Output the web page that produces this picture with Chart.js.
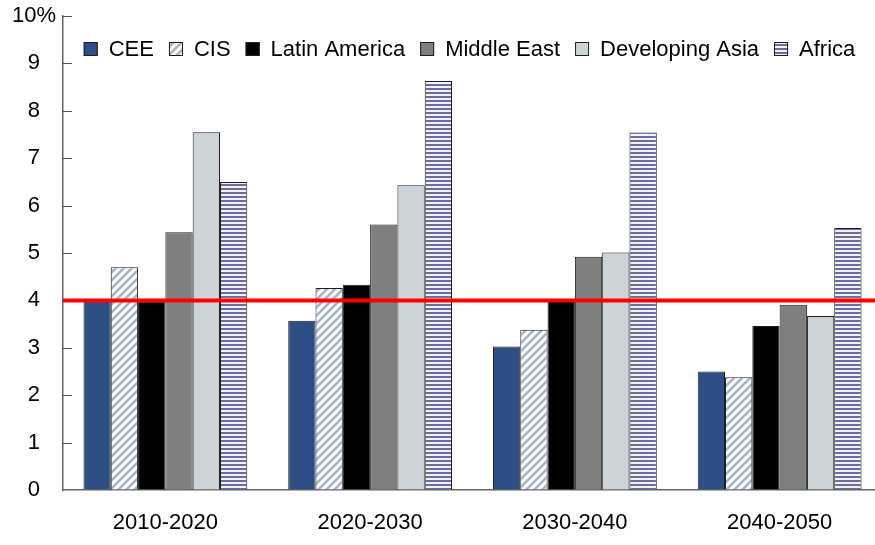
<!DOCTYPE html>
<html>
<head>
<meta charset="utf-8">
<script src="https://cdn.jsdelivr.net/npm/chart.js@4.4.0/dist/chart.umd.min.js"></script>
<style>
  html, body { margin: 0; padding: 0; background: #fff; overflow: hidden; }
  #wrap { width: 882px; height: 545px; }
</style>
</head>
<body>
<div id="wrap"><canvas id="myChart" width="882" height="545"></canvas></div>
<script>
// decades on the x axis
const periods = ['2010-2020', '2020-2030', '2030-2040', '2040-2050'];
const regions = ['CEE', 'CIS', 'Latin America', 'Middle East', 'Developing Asia', 'Africa'];

// growth rates, % per year
const cee = [4.0, 3.57, 3.03, 2.5];
const cis = [4.7, 4.26, 3.38, 2.38];
const latinAmerica = [3.98, 4.33, 4.02, 3.46];
const middleEast = [5.44, 5.6, 4.92, 3.91];
const developingAsia = [7.55, 6.43, 5.01, 3.67];
const africa = [6.5, 8.63, 7.54, 5.53];

const yTicks = [0, 1, 2, 3, 4, 5, 6, 7, 8, 9, 10];
const threshold = 4;

// diagonal stripes for CIS
function diagPattern() {
  let c = document.createElement('canvas');
  c.width = 8; c.height = 8;
  let g = c.getContext('2d');
  g.fillStyle = '#ffffff';
  g.fillRect(0, 0, 8, 8);
  g.strokeStyle = '#a3b3c8';
  g.lineWidth = 2.6;
  g.beginPath();
  g.moveTo(-2, 10); g.lineTo(10, -2);
  g.moveTo(-2, 2); g.lineTo(2, -2);
  g.moveTo(6, 10); g.lineTo(10, 6);
  g.stroke();
  return g.createPattern(c, 'repeat');
}

// horizontal stripes for Africa
function hPattern() {
  let c = document.createElement('canvas');
  c.width = 4; c.height = 4;
  let g = c.getContext('2d');
  g.fillStyle = '#f2f2f8';
  g.fillRect(0, 0, 4, 4);
  g.fillStyle = '#6c6c9e';
  g.fillRect(0, 0, 4, 2);
  return g.createPattern(c, 'repeat');
}

const fills = ['#2e4f86', diagPattern(), '#000000', '#7f7f7f', '#cdd4d7', hPattern()];
const series = [cee, cis, latinAmerica, middleEast, developingAsia, africa];

const FONT = "'Liberation Sans', Arial, sans-serif";

// red 4% line, inward y ticks, legend inside the plot
const extras = {
  id: 'extras',
  afterDatasetsDraw(chart) {
    let ctx = chart.ctx;
    let y = chart.scales.y;
    let area = chart.chartArea;
    ctx.save();
    ctx.strokeStyle = '#555';
    ctx.lineWidth = 1;
    yTicks.forEach(v => {
      if (v === 0) return;
      let py = Math.round(y.getPixelForValue(v)) + 0.5;
      ctx.beginPath();
      ctx.moveTo(area.left, py);
      ctx.lineTo(area.left + 9, py);
      ctx.stroke();
    });
    let ry = y.getPixelForValue(threshold);
    ctx.strokeStyle = '#ff0000';
    ctx.lineWidth = 4;
    ctx.beginPath();
    ctx.moveTo(area.left, ry);
    ctx.lineTo(chart.width, ry);
    ctx.stroke();

    // legend
    ctx.font = '22px ' + FONT;
    ctx.textBaseline = 'middle';
    ctx.textAlign = 'left';
    let box = 14, gapText = 11, gapItem = 15;
    let items = chart.data.datasets.map(ds => ({ ds, w: ctx.measureText(ds.label).width }));
    let total = items.reduce((s, it) => s + box + gapText + it.w, 0) + gapItem * (items.length - 1);
    let x = (area.left + area.right) / 2 - total / 2 - 3;
    let cy = 49;
    items.forEach(it => {
      ctx.fillStyle = it.ds.backgroundColor;
      ctx.fillRect(x, cy - box / 2, box, box);
      ctx.strokeStyle = '#1e1e1e';
      ctx.lineWidth = 1;
      ctx.strokeRect(x + 0.5, cy - box / 2 + 0.5, box - 1, box - 1);
      ctx.fillStyle = '#000';
      ctx.fillText(it.ds.label, x + box + gapText, cy + 1);
      x += box + gapText + it.w + gapItem;
    });
    ctx.restore();
  }
};

Chart.defaults.font.family = FONT;
Chart.defaults.color = '#000';

new Chart(document.getElementById('myChart'), {
  type: 'bar',
  data: {
    labels: periods,
    datasets: regions.map((name, i) => ({
      label: name,
      data: series[i],
      backgroundColor: fills[i],
      borderColor: '#1e1e1e',
      borderWidth: 1,
      categoryPercentage: 0.8,
      barPercentage: 1.0
    }))
  },
  options: {
    responsive: false,
    animation: false,
    devicePixelRatio: 1,
    layout: { padding: { top: 16, right: 0, bottom: 9, left: 0 } },
    plugins: {
      legend: { display: false },
      tooltip: { enabled: false }
    },
    scales: {
      x: {
        afterFit: s => { s.height = 46; },
        grid: { display: false, drawTicks: false },
        border: { display: true, color: '#666', width: 1.5 },
        ticks: { font: { size: 22 }, padding: 20, color: '#000' }
      },
      y: {
        min: 0,
        max: 10,
        afterFit: s => { s.width = 63; s.paddingTop = 0; s.paddingBottom = 0; },
        afterBuildTicks: s => { s.ticks = yTicks.map(v => ({ value: v })); },
        grid: { display: true, drawOnChartArea: false, drawTicks: false },
        border: { display: true, color: '#666', width: 1.5 },
        ticks: {
          font: { size: 22, lineHeight: 1 },
          padding: 7,
          crossAlign: 'center',
          color: '#000',
          callback: v => v === 10 ? '10%' : String(v)
        }
      }
    }
  },
  plugins: [extras]
});
</script>
</body>
</html>
